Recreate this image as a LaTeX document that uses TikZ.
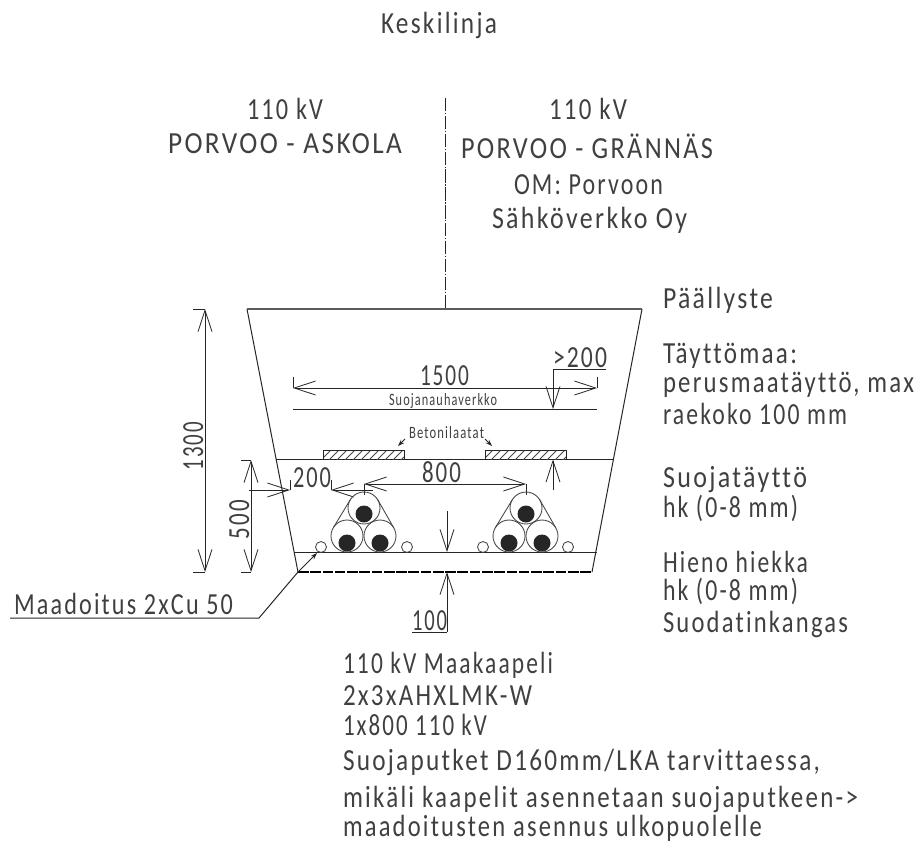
\documentclass[tikz,border=0pt]{standalone}
\usepackage{graphicx}
\usepackage{fontspec}
\usetikzlibrary{arrows.meta}
\setmainfont[LetterSpace=9,Ligatures=NoCommon]{Carlito}
\definecolor{ink}{gray}{0.15}
\definecolor{txt}{gray}{0.25}
\newdimen\txw
\newcommand{\tx}[2]{\txw=#1pt \txw=0.75\txw \resizebox{\txw}{\height}{#2}}
\tikzset{
  x=0.75pt,y=-0.75pt,
  every node/.style={inner sep=0pt,outer sep=0pt,text=txt,anchor=base west,font=\fontsize{23}{23}\selectfont},
  ln/.style={draw=ink,line width=0.75pt},
  thinln/.style={draw=ink!85,line width=0.65pt},
  dm/.style={ln,{Straight Barb[length=16pt,width=10.5pt,line width=.6pt]}-{Straight Barb[length=16pt,width=10.5pt,line width=.6pt]}},
  ar/.style={ln,-{Straight Barb[length=16pt,width=10.5pt,line width=.6pt]}},
  sm/.style={ln,-{Stealth[length=5pt,width=3.5pt]}},
  smalltext/.style={font=\fontsize{13}{13}\selectfont},
}
\newcommand{\triad}[1]{%
 \begin{scope}[shift={(#1,0)}]
  \foreach \cx/\cy/\dy in {0/508/6,-17/536/7,16/536/7}{
    \draw[thinln] (\cx,\cy) circle[radius=16];
    \fill[ink] (\cx,\cy+\dy) circle[radius=8.5];
  }
  \draw[thinln] (-13.7,499.7) -- (-30.7,527.7);
  \draw[thinln] (13.7,499.7) -- (29.7,527.7);
 \end{scope}}
\begin{document}
\begin{tikzpicture}
\useasboundingbox[fill=white] (0,0) rectangle (919,843);
% centre line
\coordinate (cTop) at (445,98); \coordinate (cBot) at (445,309);
\draw[draw=ink,line width=.7pt,dash pattern=on 10pt off 1.2pt on 1pt off 1.2pt] (cTop) -- (cBot);
% trench
\coordinate (tl) at (247,309); \coordinate (tr) at (642,309);
\coordinate (bl) at (298,572); \coordinate (br) at (592,572);
\draw[ln] (bl) -- (tl);
\draw[ln] (tr) -- (br);
\draw[draw=ink!75,line width=1pt] (tl) -- (tr);
\draw[ln] (276,459.5) -- (613,459.5);
\draw[ln] (294,552) -- (597,552);
\draw[draw=black,line width=1.9pt,dash pattern=on 8pt off 1.2pt] (bl) -- (br);
\draw[ln] (293,409) -- (597,409);
% concrete slabs
\foreach \xa/\xb in {323/404,485/566}{
  \begin{scope}
    \clip (\xa,450) rectangle (\xb,459.5);
    \foreach \k in {0,8,...,96}{
      \draw[thinln] (\xa+\k-10,460) -- (\xa+\k,450);
    }
  \end{scope}
  \draw[ln] (\xa,459.5) -- (\xa,450) -- (\xb,450) -- (\xb,459.5);
}
% dimension 1500
\draw[dm] (293,388) -- (597,388);
\draw[ln] (293,377) -- (293,388);
\draw[ln] (597,377) -- (597,388);
% >200
\draw[ar] (553,369) -- (553,409);
\draw[ln] (553,369) -- (606,369);
\draw[ar] (553,490) -- (553,459.5);
% 1300 / 500
\draw[dm] (205,309) -- (205,572);
\draw[ln] (193,309) -- (205,309);
\draw[ln] (193,572) -- (205,572);
\draw[dm] (251,460) -- (251,572);
\draw[ln] (241,460) -- (251,460);
\draw[ln] (241,572) -- (251,572);
% 200
\draw[ar] (249,490) -- (290,490);
\draw[ln] (290,490) -- (290,480);
\draw[ar] (373,490) -- (331,490);
\draw[ln] (331,490) -- (331,480);
% 800
\draw[dm] (364,484) -- (526,484);
\draw[ln] (364,484) -- (364,495);
\draw[ln] (526,484) -- (526,495);
% cables
\triad{364}
\triad{526}
\foreach \cx in {321,407,483,568}{\draw[thinln] (\cx,547) circle[radius=5.5];}
% centre arrows
\draw[ar] (447,511) -- (447,552);
\draw[ar] (447,632) -- (447,572);
\draw[ln] (412,632) -- (447,632);
% maadoitus leader
\draw[ln] (10,618) -- (259,618) -- (298,572);
\draw[sm] (298,572) -- (317,553);
% betonilaatat arrows
\draw[sm] (405,439) -- (398,446);
\draw[sm] (485,439) -- (492,446);
% texts
\node (kesk) at (381,33) {\tx{116}{Keskilinja}};
\node (a1) at (247,119) {\tx{76}{110 kV}};
\node (a2) at (168,153) {\tx{234}{PORVOO - ASKOLA}};
\node (b1) at (549,119) {\tx{78}{110 kV}};
\node (b2) at (461,158) {\tx{252}{PORVOO - GRÄNNÄS}};
\node (b3) at (514,194) {\tx{149}{OM: Porvoon}};
\node (b4) at (492,228) {\tx{195}{Sähköverkko Oy}};
\node (r1) at (663,308) {\tx{110}{Päällyste}};
\node (r2) at (663,363) {\tx{134}{Täyttömaa:}};
\node (r3) at (663,392) {\tx{251}{perusmaatäyttö, max}};
\node (r4) at (663,424) {\tx{184}{raekoko 100 mm}};
\node (r5) at (663,487) {\tx{144}{Suojatäyttö}};
\node (r6) at (663,517) {\tx{135}{hk (0-8 mm)}};
\node (r7) at (663,572) {\tx{145}{Hieno hiekka}};
\node (r8) at (663,600) {\tx{135}{hk (0-8 mm)}};
\node (r9) at (663,632) {\tx{185}{Suodatinkangas}};
\node (d1500) at (420,385) {\tx{49}{1500}};
\node (d200b) at (553,367) {\tx{54}{>200}};
\node[smalltext] (sv) at (389,405) {\tx{108}{Suojanauhaverkko}};
\node[smalltext] (bt) at (409,438) {\tx{75}{Betonilaatat}};
\node (d800) at (422,482) {\tx{39}{800}};
\node (d200) at (293,487) {\tx{38}{200}};
\node[rotate=90] (d1300) at (203,470) {\tx{48}{1300}};
\node[rotate=90] (d500) at (249,539) {\tx{39}{500}};
\node (d100) at (412,630) {\tx{35}{100}};
\node (m) at (14,614) {\tx{219}{Maadoitus 2xCu 50}};
\node (t1) at (343,673) {\tx{210}{110 kV Maakaapeli}};
\node (t2) at (343,705) {\tx{189}{2x3xAHXLMK-W}};
\node (t3) at (343,735) {\tx{144}{1x800 110 kV}};
\node (t4) at (343,770) {\tx{477}{Suojaputket D160mm/LKA tarvittaessa,}};
\node (t5) at (343,807) {\tx{515}{mikäli kaapelit asennetaan suojaputkeen->}};
\node (t6) at (343,836) {\tx{419}{maadoitusten asennus ulkopuolelle}};
\end{tikzpicture}
\end{document}
